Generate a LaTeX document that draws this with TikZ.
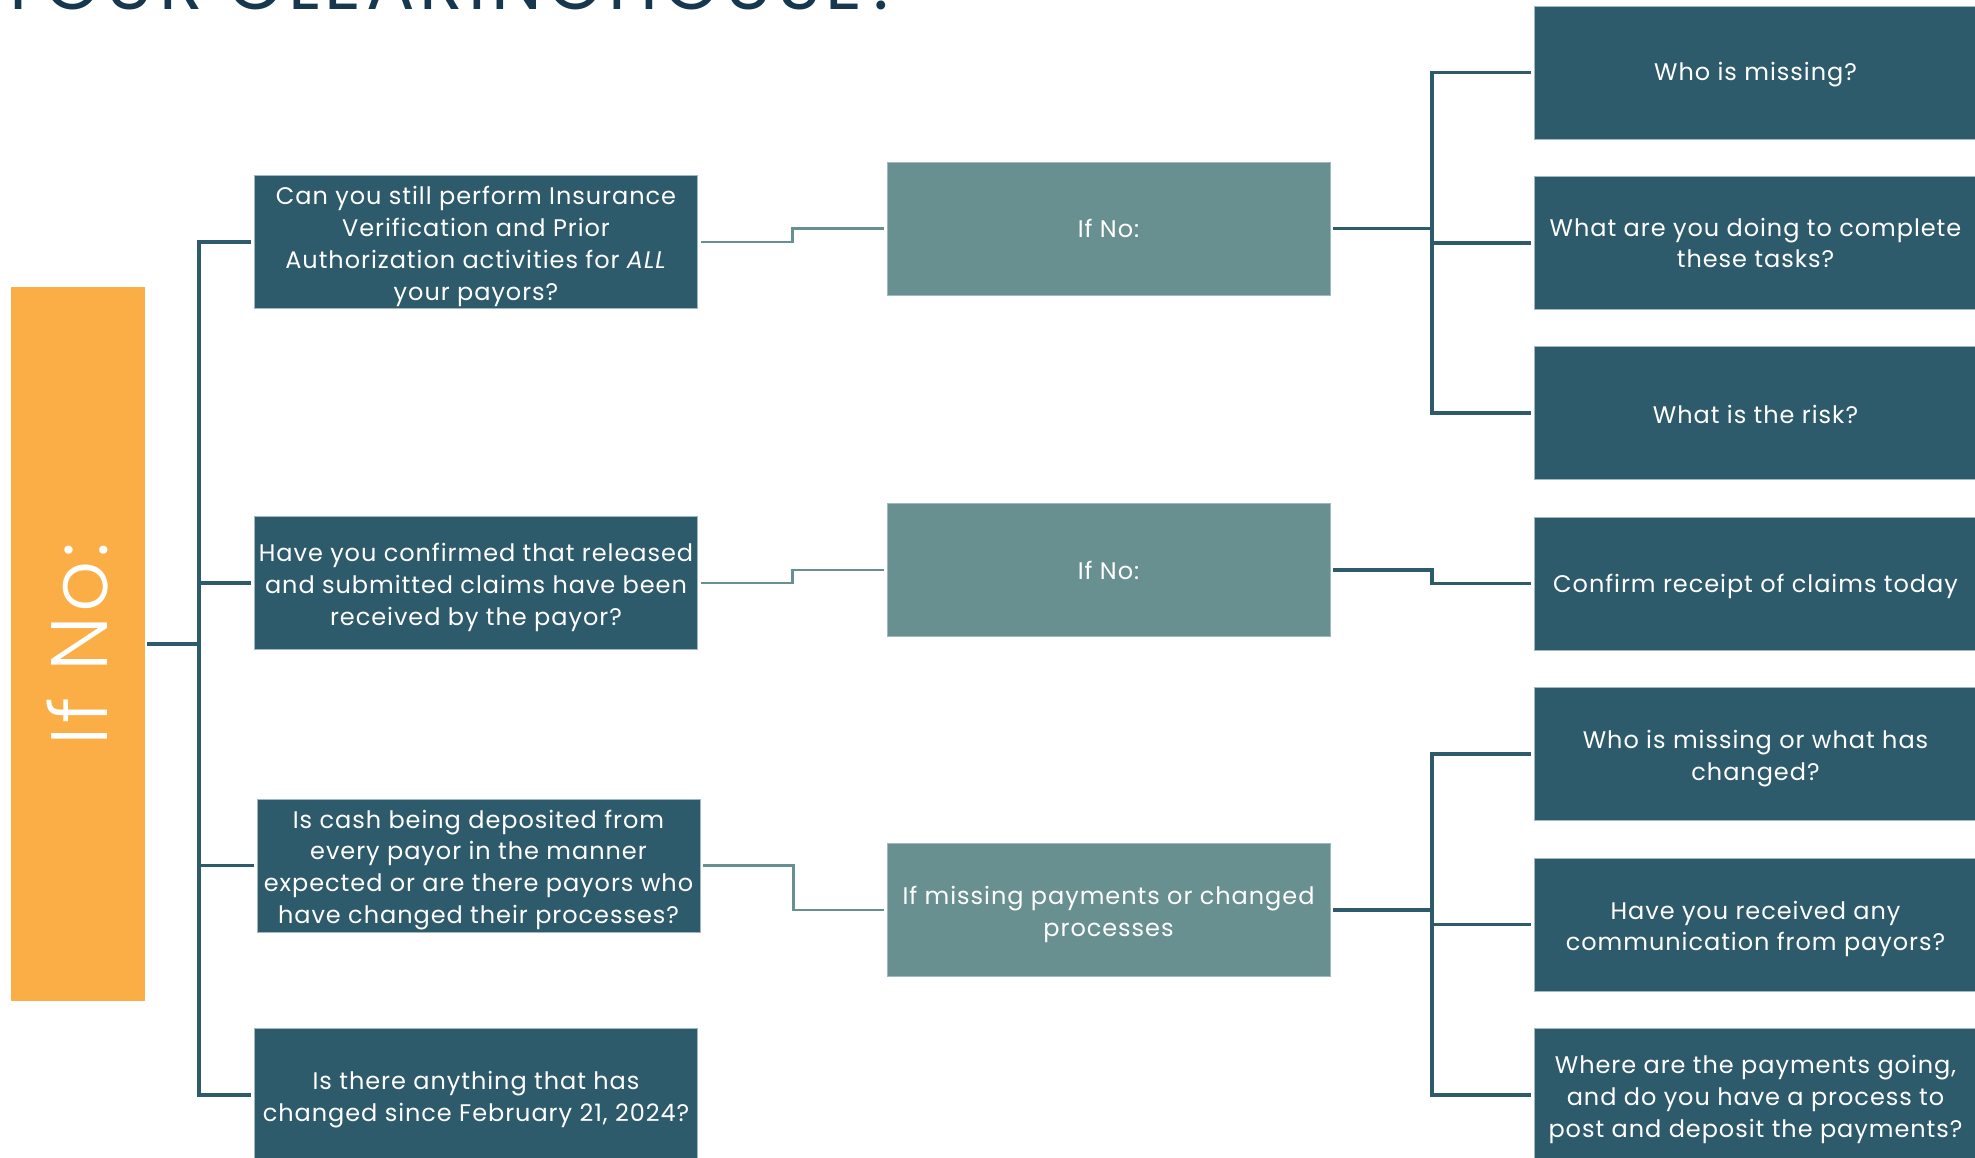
\documentclass[tikz,border=0pt]{standalone}
\usepackage{fontspec}
\setmainfont{Poppins}
\newfontfamily\barfont{Poppins Light}
\usetikzlibrary{calc}
\definecolor{deepteal}{RGB}{45,91,107}
\definecolor{softteal}{RGB}{105,144,145}
\definecolor{amber}{RGB}{251,174,69}
\definecolor{navy}{RGB}{22,55,78}
\definecolor{boxedge}{RGB}{160,185,192}

% a filled box with its centred text, nudged down by the optional amount
\newcommand\boxnode[5][-4.5pt]{%
  \node[#2] (#3) at (#4) {};
  \node[boxtext] (#3text) at ([yshift=#1]#3.center) {#5};}

\begin{document}
\begin{tikzpicture}[x=1pt,y=-1pt,
  box/.style={minimum width=443pt, minimum height=133pt, inner sep=0pt,
    draw=boxedge, line width=0.8pt},
  boxtext/.style={align=center, text=white, inner sep=0pt,
    font=\fontsize{24}{31.9}\selectfont\addfontfeatures{LetterSpace=4}},
  qbox/.style={box, fill=deepteal},
  ifbox/.style={box, fill=softteal},
  darkline/.style={draw=deepteal, line width=3.2pt},
  liteline/.style={draw=softteal, line width=2.8pt},
  gap/.style={shorten <=3pt, shorten >=3pt}]

\useasboundingbox (0,0) rectangle (1975,1157);
\clip (0,0) rectangle (1975,1157);
\fill[white] (0,0) rectangle (1975,1157);

% heading, running off the top edge
\node[anchor=base west, inner sep=0pt, text=navy,
  font=\fontsize{72}{72}\selectfont\addfontfeatures{LetterSpace=7}]
  (title) at (-3,9.5) {YOUR CLEARINGHOUSE?};

% orange side bar
\node[fill=amber, minimum width=134pt, minimum height=714pt, inner sep=0pt] (bar) at (78,644) {};
\node[text=white, rotate=90, inner sep=0pt,
  font=\barfont\fontsize{80}{80}\selectfont\addfontfeatures{LetterSpace=5}]
  (barlabel) at (78,644) {If No:};

% first column: questions
\boxnode{qbox}{b1}{476,242}{Can you still perform Insurance\\Verification and Prior\\Authorization activities for \textit{ALL}\\your payors?}
\boxnode{qbox}{b2}{476,583}{Have you confirmed that released\\and submitted claims have been\\received by the payor?}
\boxnode{qbox}{b3}{478.5,865.5}{Is cash being deposited from\\every payor in the manner\\expected or are there payors who\\have changed their processes?}
\boxnode{qbox}{b4}{476,1095}{Is there anything that has\\changed since February 21, 2024?}

% second column: conditions
\boxnode[0pt]{ifbox}{c1}{1108.5,228.6}{If No:}
\boxnode[0pt]{ifbox}{c2}{1108.5,570}{If No:}
\boxnode{ifbox}{c3}{1108.5,910}{If missing payments or changed\\processes}

% third column: follow-ups
\boxnode[-2pt]{qbox}{d1}{1755.5,72.5}{Who is missing?}
\boxnode[0pt]{qbox}{d2}{1755.5,243}{What are you doing to complete\\these tasks?}
\boxnode[-1pt]{qbox}{d3}{1755.5,413}{What is the risk?}
\boxnode[-2.5pt]{qbox}{d4}{1755.5,583.5}{Confirm receipt of claims today}
\boxnode{qbox}{d5}{1755.5,754}{Who is missing or what has\\changed?}
\boxnode{qbox}{d6}{1755.5,924.5}{Have you received any\\communication from payors?}
\boxnode{qbox}{d7}{1755.5,1095}{Where are the payments going,\\and do you have a process to\\post and deposit the payments?}

% trunk from the side bar to the questions
\coordinate (trunk) at (199,644);
\draw[darkline, shorten <=2pt] (bar.east) -- (trunk);
\draw[darkline, gap] (b1.west) -| (trunk) |- (b4.west);
\draw[darkline, shorten <=3pt] (b2.west) -- (b2.west -| trunk);
\draw[darkline, shorten <=3pt] (b3.west) -- (b3.west -| trunk);

% questions to conditions
\draw[liteline, gap] (b1.east) -| ($(b1.east)!.5!(c1.west)$) |- (c1.west);
\draw[liteline, gap] (b2.east) -| ($(b2.east)!.5!(c2.west)$) |- (c2.west);
\draw[liteline, gap] (b3.east) -| ($(b3.east)!.5!(c3.west)$) |- (c3.west);

% conditions to follow-ups
\coordinate (j1) at ($(c1.east)!.5!(c1.east -| d1.west)$);
\draw[darkline, shorten <=3pt] (c1.east) -- (j1);
\draw[darkline, gap] (d1.west) -| (j1) |- (d3.west);
\draw[darkline, shorten <=3pt] (d2.west) -- (d2.west -| j1);

\draw[darkline, gap] (c2.east) -| ($(c2.east)!.5!(d4.west)$) |- (d4.west);

\coordinate (j3) at ($(c3.east)!.5!(c3.east -| d5.west)$);
\draw[darkline, shorten <=3pt] (c3.east) -- (j3);
\draw[darkline, gap] (d5.west) -| (j3) |- (d7.west);
\draw[darkline, shorten <=3pt] (d6.west) -- (d6.west -| j3);
\end{tikzpicture}
\end{document}
